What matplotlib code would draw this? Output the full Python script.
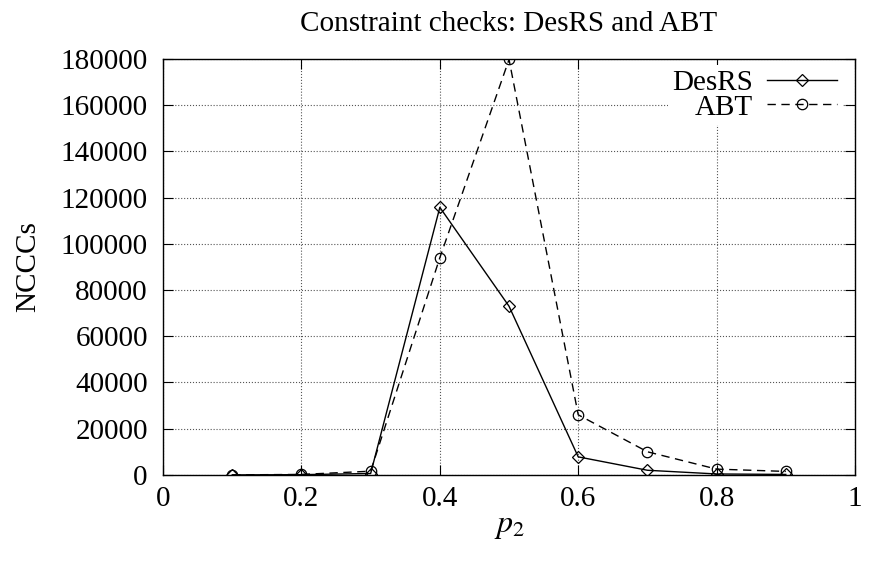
import numpy as np
import matplotlib
matplotlib.use('Agg')
import matplotlib.pyplot as plt

plt.rcParams['font.family'] = 'serif'
plt.rcParams['font.serif'] = ['Liberation Serif', 'DejaVu Serif']
plt.rcParams['mathtext.fontset'] = 'stix'

# data
p2 = [0.1, 0.2, 0.3, 0.4, 0.5, 0.6, 0.7, 0.8, 0.9]
desrs = [0, 100, 600, 115800, 73000, 7800, 2000, 400, 200]
abt = [0, 200, 1600, 94000, 179800, 26000, 10000, 2500, 1500]

fig = plt.figure(figsize=(8.72, 5.62), dpi=100)
ax = fig.add_axes([0.187, 0.155, 0.7935, 0.74])

ax.plot(p2, desrs, '-', color='black', lw=1, marker='D', markersize=6,
        mfc='none', mec='black', mew=0.9, label='DesRS')
ax.plot(p2, abt, '--', color='black', lw=1, dashes=(6, 4), marker='o',
        markersize=7.5, mfc='none', mec='black', mew=0.9, label='ABT')

ax.set_xlim(0, 1)
ax.set_ylim(0, 180000)
ax.set_xticks([0, 0.2, 0.4, 0.6, 0.8, 1])
ax.set_xticklabels(['0', '0.2', '0.4', '0.6', '0.8', '1'])
ax.set_yticks(np.arange(0, 180001, 20000))
ax.grid(True, linestyle=':', color='#555555', lw=0.8)
ax.tick_params(direction='in', top=True, right=True, length=7, labelsize=21)
ax.tick_params(axis='y', pad=11)
ax.tick_params(axis='x', pad=8)
for s in ax.spines.values():
    s.set_linewidth(1)

ax.set_title('Constraint checks: DesRS and ABT', fontsize=21, pad=20)
ax.set_xlabel('$p_2$', fontsize=23, labelpad=0)
ax.set_ylabel('NCCCs', fontsize=21, labelpad=14)

leg = ax.legend(loc='upper right', bbox_to_anchor=(0.981, 0.985), frameon=True,
                fontsize=21, markerfirst=False, handlelength=2.4,
                borderaxespad=0, labelspacing=-0.06, handletextpad=0.5,
                borderpad=0.15, fancybox=False)
leg.get_frame().set_edgecolor('none')
leg.get_frame().set_facecolor('white')
leg.get_frame().set_alpha(1)

fig.savefig('out.png', dpi=100)
